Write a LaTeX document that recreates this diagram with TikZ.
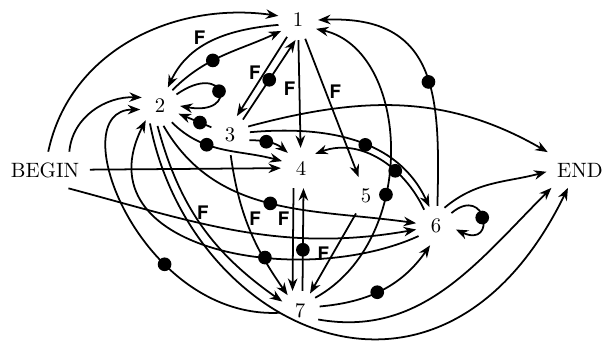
\documentclass[tikz,border=0pt]{standalone}
\usepackage{fontspec}
\newfontfamily\flabfont{TeX Gyre Heros}
\usetikzlibrary{arrows.meta}
\tikzset{
  vtx/.style={circle, inner sep=0pt, minimum size=19pt},
  term/.style={inner sep=5pt},
  pre/.style={-{Stealth[length=6pt,width=4.6pt]}, line width=0.85pt},
  flab/.style={font=\flabfont\bfseries\small, inner sep=1.5pt},
  bdot/.style={circle, fill=black, inner sep=0pt, minimum size=6.6pt},
}
\begin{document}
\begin{tikzpicture}[x=0.482pt,y=0.482pt]
\useasboundingbox (0,0) rectangle (610,345);
\node[vtx] (n1) at (298,325) {1};
\node[vtx] (n2) at (160,239) {2};
\node[vtx] (n3) at (230,210) {3};
\node[vtx] (n4) at (301,177) {4};
\node[vtx] (n5) at (366,149) {5};
\node[vtx] (n6) at (436,119) {6};
\node[vtx] (n7) at (300,34) {7};
\node[term] (nB) at (45,175) {BEGIN};
\node[term] (nE) at (580,175) {END};

% BEGIN
\draw[pre] (nB.80) to[out=78,in=172] (n1.168);
\draw[pre] (nB.37) to[out=85,in=178] (n2.155);
\draw[pre] (nB) -- (n4);
\draw[pre] (nB.-38) to[out=-15,in=190] (n6.190);
% 1
\draw[pre] (n1.194) to[out=185,in=65] node[flab, above, pos=.62]{F} (n2.67);
\draw[pre] (n1.237) -- node[flab, left, pos=.45]{F} (n3.70);
\draw[pre] (n1) -- node[flab, left, pos=.45]{F} (n4);
\draw[pre] (n1) -- node[flab, right, pos=.38]{F} (n5);
% 2
\draw[pre] (n2.52) to[out=45,in=205] node[bdot, pos=.4]{} (n1.213);
\draw[pre] (n2.35) to[out=35,in=-10,min distance=29pt] node[bdot]{} (n2.0);
\draw[pre] (n2.-54) to[out=-45,in=165] node[bdot, pos=.35]{} (n4.160);
\draw[pre] (n2.-80) to[out=-60,in=172] node[bdot, pos=.5]{} (n6.172);
\draw[pre] (n2.-97) to[out=-75,in=145] node[flab, right, pos=.42]{F} (n7.152);
\draw[pre] (n2.-120) .. controls (190,15) and (440,-105) .. (nE.236);
% 3
\draw[pre] (n3.50) -- node[bdot]{} (n1.263);
\draw[pre] (n3) -- node[bdot, pos=.35]{} (n2);
\draw[pre] (n3.-15) to[out=0,in=140] node[bdot, pos=.4]{} (n4.131);
\draw[pre] (n3.8) to[out=5,in=115] node[bdot, pos=.55]{} (n6.109);
\draw[pre] (n3.-88) to[out=-82,in=125] node[flab, right, pos=.42]{F} (n7.128);
\draw[pre] (n3.25) to[out=15,in=150] (nE.151);
% 4 and 5
\draw[pre] ([xshift=-3.6pt]n4.south) -- node[flab, left, pos=.3]{F} ([xshift=-3.6pt]n7.north);
\draw[pre] (n5) -- node[flab, left]{F} (n7);
% 6
\draw[pre] (n6.86) .. controls (440,245) and (440,330) .. node[bdot, pos=.45]{} (n1.0);
\draw[pre] (n6.126) to[out=115,in=20] node[bdot, pos=.35]{} (n4.45);
\draw[pre] (n6.210) .. controls (300,55) and (80,95) .. node[bdot, pos=.37]{} (n2.225);
\draw[pre] (n6.40) to[out=40,in=-25,min distance=22pt] node[bdot]{} (n6.-10);
\draw[pre] (n6.65) to[out=40,in=195] (nE.183);
% 7
\draw[pre] ([xshift=1.2pt]n7.north) -- node[bdot, pos=.4]{} ([xshift=1.2pt]n4.south);
\draw[pre] (n7.41) .. controls (420,105) and (410,295) .. node[bdot, pos=.37]{} (n1.-26);
\draw[pre] (n7.13) to[out=5,in=235] node[bdot, pos=.45]{} (n6.253);
\draw[pre] (n7.-25) to[out=-10,in=225] (nE.212);
\draw[pre] (n7.185) .. controls (140,25) and (60,235) .. node[bdot, pos=.33]{} (n2.190);
\end{tikzpicture}
\end{document}
